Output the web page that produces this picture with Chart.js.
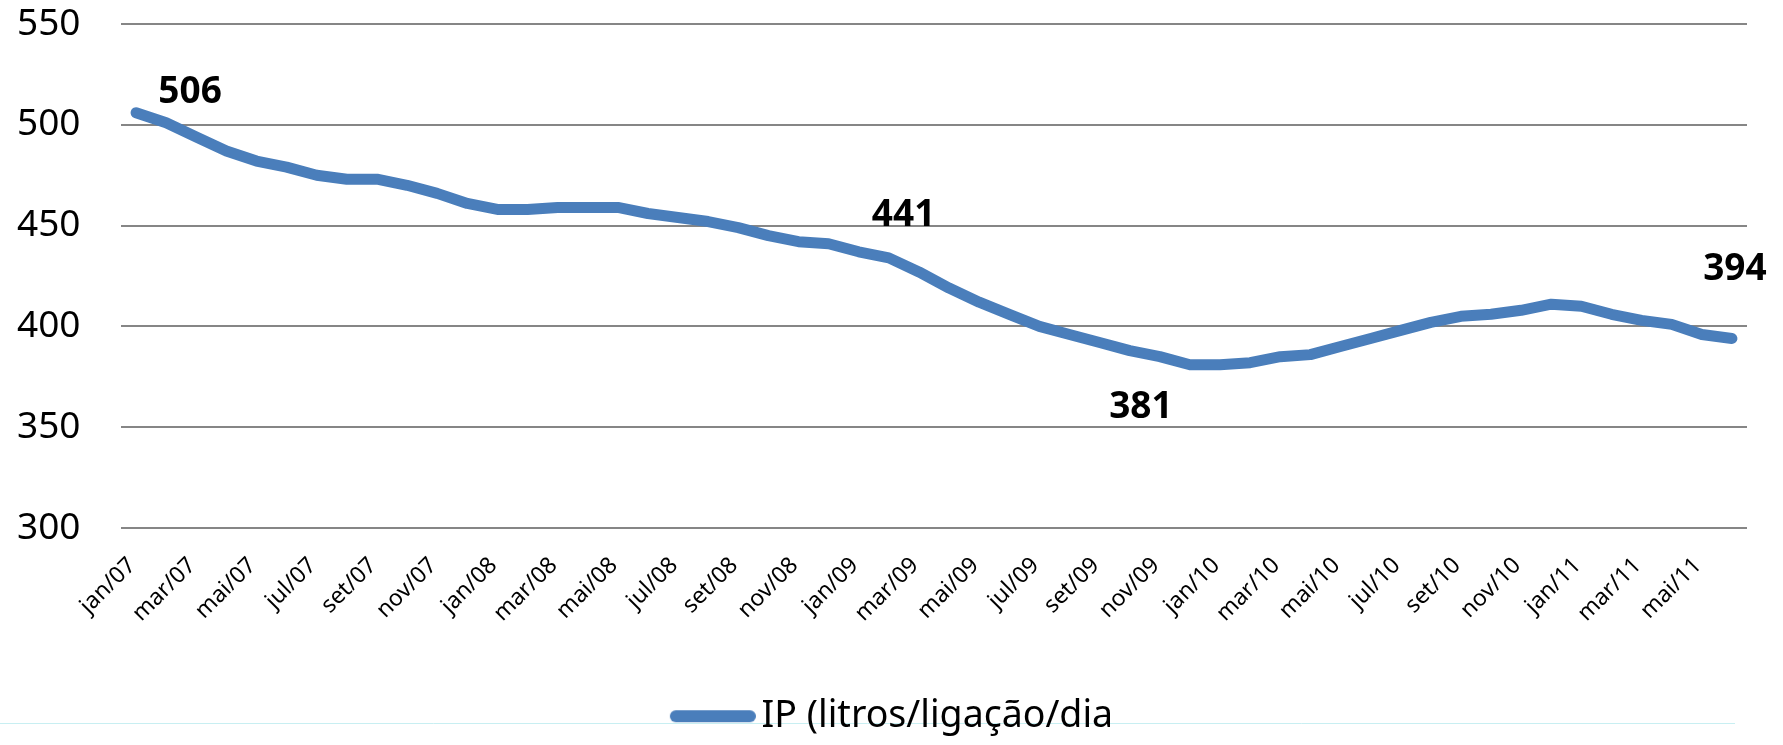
<!DOCTYPE html>
<html>
<head>
<meta charset="utf-8">
<script src="https://cdn.jsdelivr.net/npm/chart.js@4.4.1/dist/chart.umd.min.js"></script>
<style>
  html, body { margin: 0; padding: 0; background: #ffffff; }
  #wrap { width: 1783px; height: 745px; }
</style>
</head>
<body>
<div id="wrap"><canvas id="c" width="1783" height="745"></canvas></div>
<script>
// ---- data ----
const categories = [
  'jan/07','fev/07','mar/07','abr/07','mai/07','jun/07','jul/07','ago/07','set/07','out/07','nov/07','dez/07',
  'jan/08','fev/08','mar/08','abr/08','mai/08','jun/08','jul/08','ago/08','set/08','out/08','nov/08','dez/08',
  'jan/09','fev/09','mar/09','abr/09','mai/09','jun/09','jul/09','ago/09','set/09','out/09','nov/09','dez/09',
  'jan/10','fev/10','mar/10','abr/10','mai/10','jun/10','jul/10','ago/10','set/10','out/10','nov/10','dez/10',
  'jan/11','fev/11','mar/11','abr/11','mai/11','jun/11'
];
const ipValues = [
  506, 501, 494, 487, 482, 479, 475, 473, 473, 470, 466, 461,
  458, 458, 459, 459, 459, 456, 454, 452, 449, 445, 442, 441,
  437, 434, 427, 419, 412, 406, 400, 396, 392, 388, 385, 381,
  381, 382, 385, 386, 390, 394, 398, 402, 405, 406, 408, 411,
  410, 406, 403, 401, 396, 394
];
const yTicks = [300, 350, 400, 450, 500, 550];
const seriesName = 'IP (litros/ligação/dia';
const labelledIndices = [0, 23, 35, 53];

// ---- layout / style constants ----
const PLOT_LEFT = 121, PLOT_RIGHT = 1747, PLOT_TOP = 24, PLOT_BOTTOM = 528;
const PAD_LEFT = 17, PAD_BOTTOM = 0;
const FONT = '"Noto Sans", "DejaVu Sans", sans-serif';
const LINE_COLOR = '#4a7ebb';
const labelOffsets = { 0: [54, -23], 23: [75, -31], 35: [-49, 40], 53: [3, -72] };

// legend line symbol (drawn in the right part of a wider image so it sits close to the text)
const legendSymbol = (function () {
  const cv = document.createElement('canvas');
  cv.width = 118; cv.height = 14;
  const g = cv.getContext('2d');
  g.strokeStyle = LINE_COLOR;
  g.lineWidth = 12;
  g.lineCap = 'round';
  g.beginPath();
  g.moveTo(cv.width - 80, 7); g.lineTo(cv.width - 6, 7);
  g.stroke();
  return cv;
})();

const pointLabels = {
  id: 'pointLabels',
  afterDatasetsDraw(chart) {
    const meta = chart.getDatasetMeta(0);
    const ctx = chart.ctx;
    const fs = 37;
    ctx.save();
    ctx.font = 'bold ' + fs + 'px ' + FONT;
    ctx.fillStyle = '#000000';
    ctx.textAlign = 'center';
    ctx.textBaseline = 'alphabetic';
    labelledIndices.forEach(i => {
      const p = meta.data[i];
      const off = labelOffsets[i];
      ctx.fillText(String(ipValues[i]), p.x + off[0], p.y + off[1] + fs * 0.357);
    });
    ctx.restore();
  }
};

const guideLine = {
  id: 'guideLine',
  beforeDraw(chart) {
    const ctx = chart.ctx;
    ctx.save();
    ctx.strokeStyle = '#c8eff2';
    ctx.lineWidth = 1;
    ctx.beginPath();
    ctx.moveTo(0, 723.5);
    ctx.lineTo(1735, 723.5);
    ctx.stroke();
    ctx.restore();
  }
};

new Chart(document.getElementById('c'), {
  type: 'line',
  data: {
    labels: categories,
    datasets: [{
      label: seriesName,
      data: ipValues,
      borderColor: LINE_COLOR,
      backgroundColor: LINE_COLOR,
      borderWidth: 11,
      borderCapStyle: 'round',
      borderJoinStyle: 'round',
      pointRadius: 0,
      pointHoverRadius: 0,
      tension: 0,
      fill: false,
      pointStyle: legendSymbol
    }]
  },
  options: {
    responsive: false,
    animation: false,
    events: [],
    layout: { padding: { left: PAD_LEFT, right: 1783 - PLOT_RIGHT, top: PLOT_TOP, bottom: PAD_BOTTOM } },
    plugins: {
      legend: {
        display: true,
        position: 'bottom',
        labels: {
          usePointStyle: true,
          pointStyleWidth: 92,
          boxHeight: 12,
          color: '#000000',
          font: { family: FONT, size: 37.5 },
          padding: 4
        }
      },
      tooltip: { enabled: false }
    },
    scales: {
      x: {
        type: 'category',
        offset: true,
        grid: { display: false },
        border: { display: false },
        ticks: {
          autoSkip: false,
          minRotation: 45,
          maxRotation: 45,
          padding: 16,
          labelOffset: -4,
          color: '#000000',
          font: { family: FONT, size: 23 },
          callback: function(val, idx) { return idx % 2 === 0 ? categories[idx] : null; }
        },
        afterFit(axis) {
          const c = axis.chart;
          const lh = c.legend ? c.legend.height : 0;
          axis.height = c.height - PLOT_BOTTOM - lh - PAD_BOTTOM;
        }
      },
      y: {
        min: 300,
        max: 550,
        afterBuildTicks(axis) { axis.ticks = yTicks.map(v => ({ value: v })); },
        grid: { color: '#868686', lineWidth: 2, drawTicks: false },
        border: { display: false },
        ticks: {
          padding: 0,
          crossAlign: 'far',
          color: '#000000',
          font: { family: FONT, size: 37 }
        },
        afterFit(axis) { axis.width = PLOT_LEFT - PAD_LEFT; }
      }
    }
  },
  plugins: [guideLine, pointLabels]
});
</script>
</body>
</html>
